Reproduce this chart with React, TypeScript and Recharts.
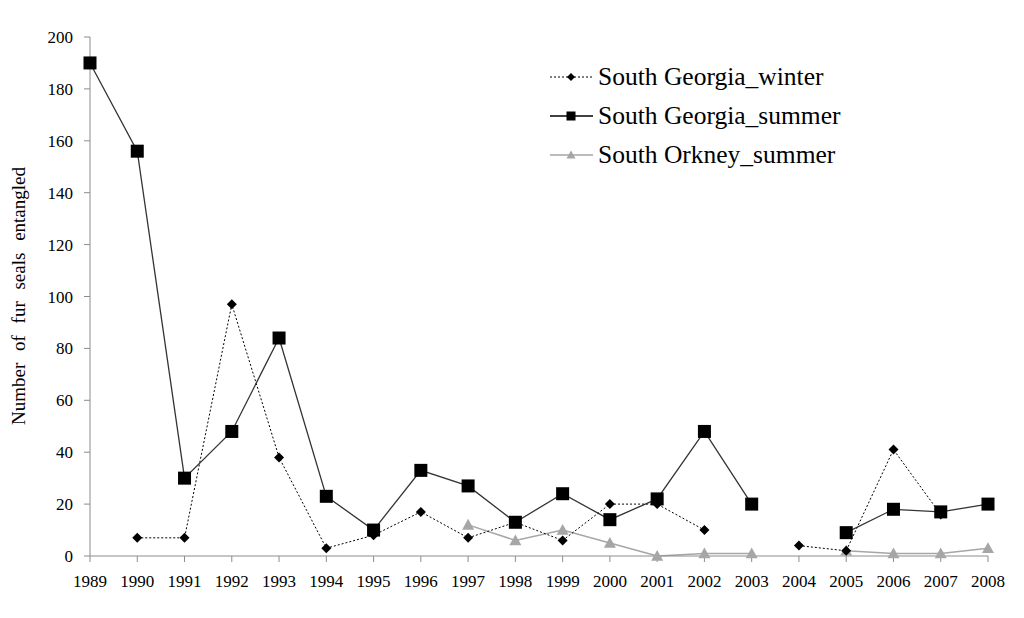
import React from 'react';
import { LineChart, Line, XAxis, YAxis } from 'recharts';

// years on the x axis
const years = [
  '1989', '1990', '1991', '1992', '1993', '1994', '1995', '1996', '1997', '1998',
  '1999', '2000', '2001', '2002', '2003', '2004', '2005', '2006', '2007', '2008',
];

// null = no survey that year (line is broken)
const sgWinter = [null, 7, 7, 97, 38, 3, 8, 17, 7, 13, 6, 20, 20, 10, null, 4, 2, 41, 16, null];
const sgSummer = [190, 156, 30, 48, 84, 23, 10, 33, 27, 13, 24, 14, 22, 48, 20, null, 9, 18, 17, 20];
const soSummer = [null, null, null, null, null, null, null, null, 12, 6, 10, 5, 0, 1, 1, null, 2, 1, 1, 3];

const yTicks = [0, 20, 40, 60, 80, 100, 120, 140, 160, 180, 200];

const data = years.map((year, i) => ({
  year,
  winter: sgWinter[i],
  summer: sgSummer[i],
  orkney: soSummer[i],
}));

const FONT = 'Liberation Serif, Times New Roman, DejaVu Serif, serif';
const AXIS = '#8c8c8c';

const Diamond = ({ cx, cy, fill = '#000', r = 5 }: any) => (
  <polygon points={`${cx},${cy - r} ${cx + r},${cy} ${cx},${cy + r} ${cx - r},${cy}`} fill={fill} />
);
const Square = ({ cx, cy, fill = '#000', s = 6.5 }: any) => (
  <rect x={cx - s} y={cy - s} width={s * 2} height={s * 2} fill={fill} />
);
const Triangle = ({ cx, cy, fill = '#a6a6a6', s = 6 }: any) => (
  <polygon points={`${cx},${cy - s} ${cx + s},${cy + s * 0.8} ${cx - s},${cy + s * 0.8}`} fill={fill} />
);

const dotFn = (Shape: any, fill: string) => (props: any) => {
  if (props.value == null) return <g key={props.index} />;
  return <Shape key={props.index} cx={props.cx} cy={props.cy} fill={fill} />;
};

const legendItems = [
  { label: 'South Georgia_winter', stroke: '#000', dash: '2 2', width: 1, shape: 'diamond' },
  { label: 'South Georgia_summer', stroke: '#000', dash: undefined, width: 1.5, shape: 'square' },
  { label: 'South Orkney_summer', stroke: '#a6a6a6', dash: undefined, width: 1.5, shape: 'triangle' },
];

function Legend() {
  return (
    <svg width={360} height={120} style={{ position: 'absolute', left: 545, top: 57 }}>
      {legendItems.map((it, i) => {
        const y = 20 + i * 39;
        return (
          <g key={it.label}>
            <line x1={5} x2={48} y1={y} y2={y} stroke={it.stroke} strokeWidth={it.width} strokeDasharray={it.dash} />
            {it.shape === 'diamond' && <Diamond cx={26} cy={y} r={4} />}
            {it.shape === 'square' && <Square cx={26} cy={y} s={4.5} />}
            {it.shape === 'triangle' && <Triangle cx={26} cy={y} s={4.5} />}
            <text x={53} y={y + 8} style={{ fontFamily: FONT, fontSize: 25.5 }} fill="#000">
              {it.label}
            </text>
          </g>
        );
      })}
    </svg>
  );
}

export default function App() {
  return (
    <div style={{ position: 'absolute', left: 0, top: 0, width: 1024, height: 618, background: '#fff', fontFamily: FONT }}>
      <LineChart width={1024} height={618} data={data} margin={{ top: 37, right: 36, left: 30, bottom: 32 }} style={{ fontFamily: FONT }}>
        <XAxis
          dataKey="year"
          interval={0}
          stroke={AXIS}
          tickLine={{ stroke: AXIS }}
          tickSize={6}
          tickMargin={13}
          tick={{ fontFamily: FONT, fontSize: 17, fill: '#000', style: { fontFamily: FONT } }}
        />
        <YAxis
          width={60}
          domain={[0, 200]}
          ticks={yTicks}
          interval={0}
          stroke={AXIS}
          tickLine={{ stroke: AXIS }}
          tickSize={6}
          tickMargin={11}
          tick={{ fontFamily: FONT, fontSize: 17, fill: '#000', style: { fontFamily: FONT } }}
        />
        <Line
          dataKey="orkney"
          stroke="#a6a6a6"
          strokeWidth={1.5}
          dot={dotFn(Triangle, '#a6a6a6')}
          activeDot={false}
          isAnimationActive={false}
        />
        <Line
          dataKey="winter"
          stroke="#000"
          strokeWidth={1}
          strokeDasharray="2 2"
          dot={dotFn(Diamond, '#000')}
          activeDot={false}
          isAnimationActive={false}
        />
        <Line
          dataKey="summer"
          stroke="#333"
          strokeWidth={1.3}
          dot={dotFn(Square, '#000')}
          activeDot={false}
          isAnimationActive={false}
        />
        <text
          x={18}
          y={296}
          transform="rotate(-90 18 296)"
          textAnchor="middle"
          dominantBaseline="central"
          style={{ fontFamily: FONT, fontSize: 19, wordSpacing: 7 }}
          fill="#000"
        >
          Number of fur seals entangled
        </text>
      </LineChart>
      <Legend />
    </div>
  );
}
